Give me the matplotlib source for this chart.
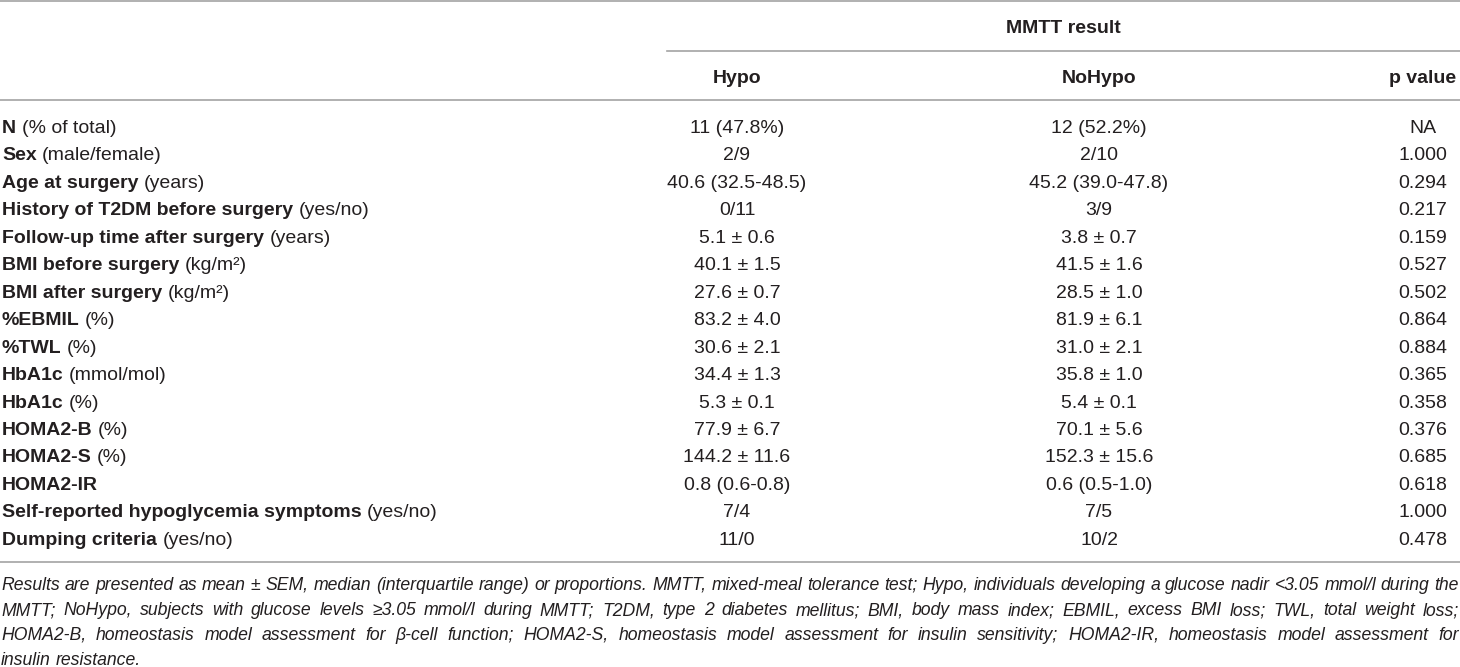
import matplotlib
matplotlib.use("Agg")
import matplotlib.pyplot as plt

# Table content
row_names = ["N", "Sex", "Age at surgery", "History of T2DM before surgery",
             "Follow-up time after surgery", "BMI before surgery", "BMI after surgery",
             "%EBMIL", "%TWL", "HbA1c", "HbA1c", "HOMA2-B", "HOMA2-S", "HOMA2-IR",
             "Self-reported hypoglycemia symptoms", "Dumping criteria"]
row_units = ["(% of total)", "(male/female)", "(years)", "(yes/no)", "(years)",
             "(kg/m²)", "(kg/m²)", "(%)", "(%)", "(mmol/mol)", "(%)", "(%)", "(%)", "",
             "(yes/no)", "(yes/no)"]
hypo = ["11 (47.8%)", "2/9", "40.6 (32.5-48.5)", "0/11", "5.1 ± 0.6", "40.1 ± 1.5",
        "27.6 ± 0.7", "83.2 ± 4.0", "30.6 ± 2.1", "34.4 ± 1.3", "5.3 ± 0.1", "77.9 ± 6.7",
        "144.2 ± 11.6", "0.8 (0.6-0.8)", "7/4", "11/0"]
nohypo = ["12 (52.2%)", "2/10", "45.2 (39.0-47.8)", "3/9", "3.8 ± 0.7", "41.5 ± 1.6",
          "28.5 ± 1.0", "81.9 ± 6.1", "31.0 ± 2.1", "35.8 ± 1.0", "5.4 ± 0.1", "70.1 ± 5.6",
          "152.3 ± 15.6", "0.6 (0.5-1.0)", "7/5", "10/2"]
p_values = ["NA", "1.000", "0.294", "0.217", "0.159", "0.527", "0.502", "0.864", "0.884",
            "0.365", "0.358", "0.376", "0.685", "0.618", "1.000", "0.478"]

group_title = "MMTT result"
col_headers = ["Hypo", "NoHypo", "p value"]

footnote = [
    "Results are presented as mean ± SEM, median (interquartile range) or proportions. MMTT, "
    "mixed-meal tolerance test; Hypo, individuals developing a glucose nadir <3.05 mmol/l during the",
    "MMTT; NoHypo, subjects with glucose levels ≥3.05 mmol/l during MMTT; T2DM, type 2 diabetes "
    "mellitus; BMI, body mass index; EBMIL, excess BMI loss; TWL, total weight loss;",
    "HOMA2-B, homeostasis model assessment for β-cell function; HOMA2-S, homeostasis model "
    "assessment for insulin sensitivity; HOMA2-IR, homeostasis model assessment for",
    "insulin resistance.",
]

plt.rcParams['font.family'] = ['Liberation Sans', 'DejaVu Sans']

W, H = 1460, 667
fig = plt.figure(figsize=(W / 100, H / 100), dpi=100)
ax = fig.add_axes([0, 0, 1, 1])
ax.set_xlim(0, W)
ax.set_ylim(H, 0)
ax.axis('off')
renderer = fig.canvas.get_renderer()

TXT = '#231f20'
LINE = '#a3a3a3'
FS = 14.0

col_x = [737, 1099, 1423]
y_first = 133.0
row_step = 27.45


def width_of(t):
    return t.get_window_extent(renderer).width


def measure(s, **kw):
    t = ax.text(0, 0, s, **kw)
    w = width_of(t)
    t.remove()
    return w


# rules
ax.plot([0, W], [0.8, 0.8], color=LINE, lw=1.2)
ax.plot([667, W], [51, 51], color=LINE, lw=1.2)
ax.plot([0, W], [100, 100], color=LINE, lw=1.2)
ax.plot([0, W], [562, 562], color=LINE, lw=1.2)

# headers
ax.text((667 + W) / 2, 33, group_title, ha='center', va='baseline',
        fontsize=FS, fontweight='bold', color=TXT)
for x, h in zip(col_x, col_headers):
    ax.text(x, 83, h, ha='center', va='baseline', fontsize=FS,
            fontweight='bold', color=TXT)

space_w = measure("a a", fontsize=FS) - measure("aa", fontsize=FS)

# body rows
for i in range(len(row_names)):
    y = y_first + i * row_step
    t = ax.text(2, y, row_names[i], ha='left', va='baseline', fontsize=FS,
                fontweight='bold', color=TXT)
    if row_units[i]:
        ax.text(2 + width_of(t) + space_w, y, row_units[i], ha='left',
                va='baseline', fontsize=FS, color=TXT)
    for x, vals in zip(col_x, [hypo, nohypo, p_values]):
        ax.text(x, y, vals[i], ha='center', va='baseline', fontsize=FS, color=TXT)

# footnote size: first line set tight across the full width
FN = 12.0 * (W - 4) / measure(footnote[0], fontsize=12.0, style='italic')


def draw_justified(line, y, x0, x1, justify):
    words = line.split(' ')
    arts = [ax.text(0, y, w_, ha='left', va='baseline', fontsize=FN,
                    style='italic', color=TXT) for w_ in words]
    widths = [width_of(a) for a in arts]
    if justify and len(words) > 1:
        gap = (x1 - x0 - sum(widths)) / (len(words) - 1)
    else:
        gap = (measure("a a", fontsize=FN, style='italic')
               - measure("aa", fontsize=FN, style='italic'))
    x = x0
    for a, w_ in zip(arts, widths):
        a.set_x(x)
        x += w_ + gap


fn_y = [590, 615, 640, 665]
for k, line in enumerate(footnote):
    draw_justified(line, fn_y[k], 1, W - 1, k < len(footnote) - 1)

fig.savefig("out.png", dpi=100)
